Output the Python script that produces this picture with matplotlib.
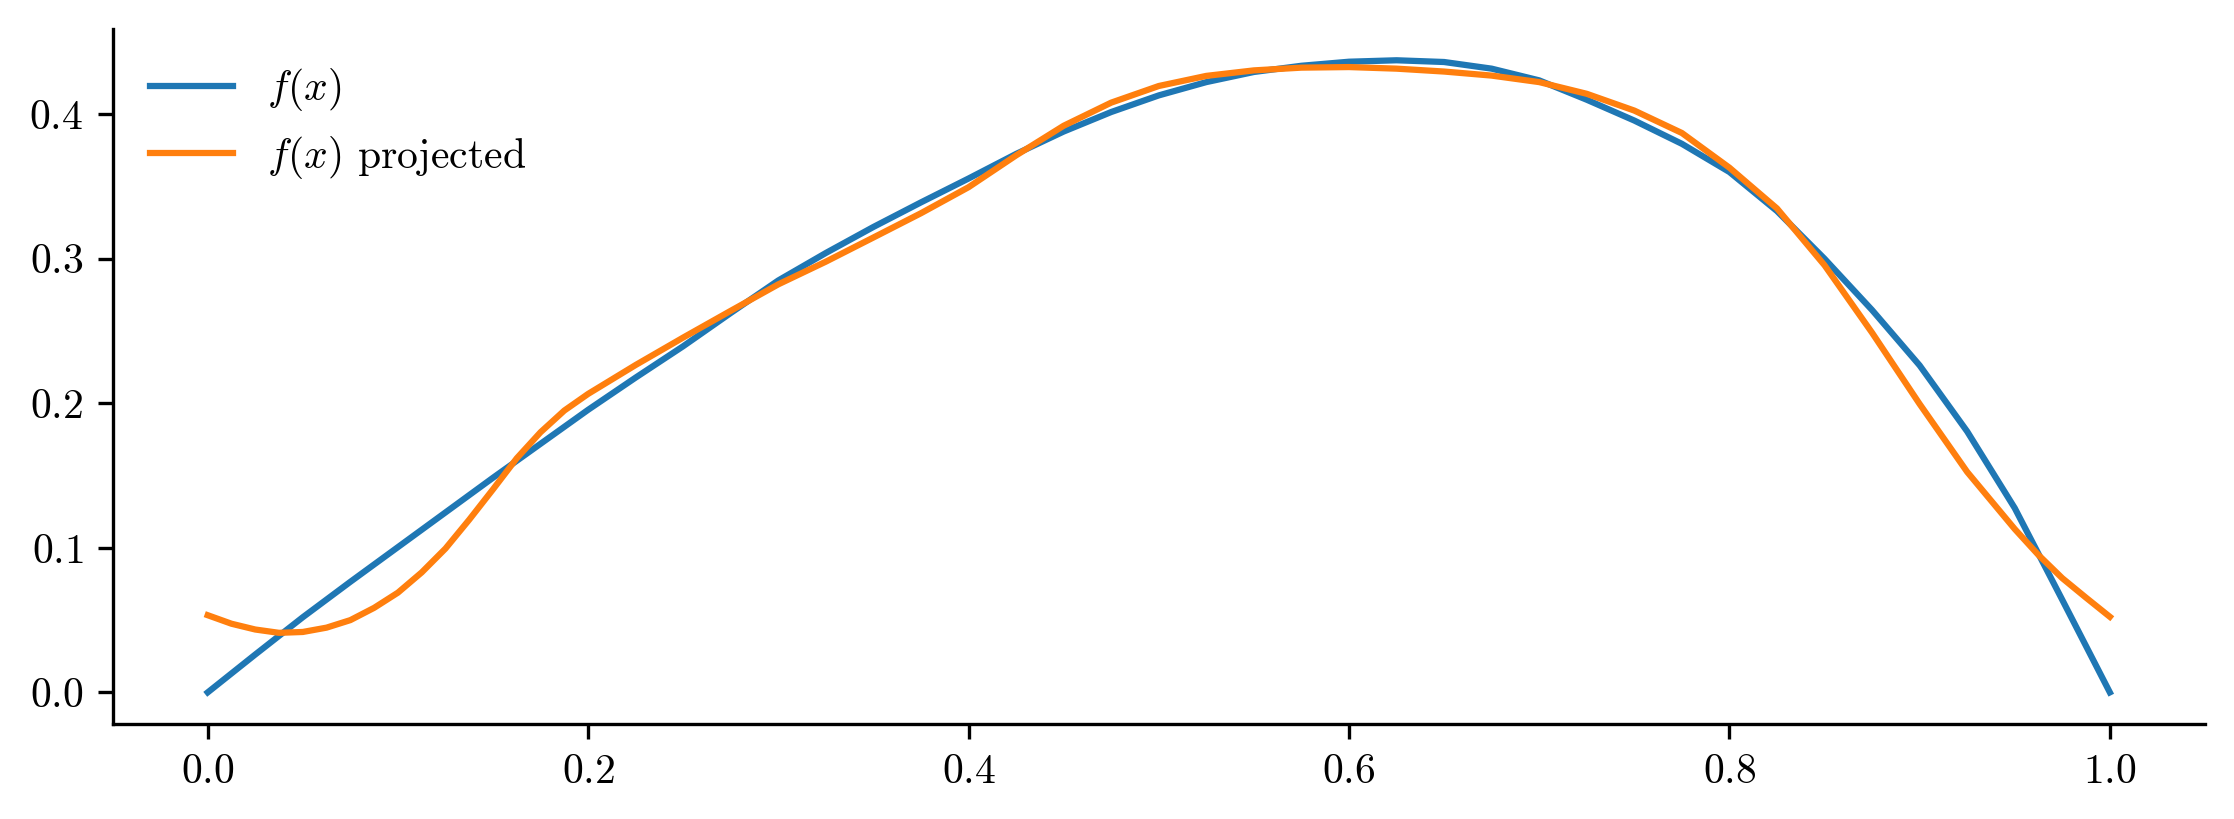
import matplotlib
matplotlib.use("Agg")
import matplotlib.pyplot as plt

plt.rcParams['font.family'] = 'serif'
plt.rcParams['font.serif'] = ['cmr10', 'DejaVu Serif']
plt.rcParams['mathtext.fontset'] = 'cm'
plt.rcParams['axes.formatter.use_mathtext'] = True
plt.rcParams['font.size'] = 10

# f(x)
f_x = [0.000, 0.025, 0.050, 0.075, 0.100, 0.125, 0.150, 0.175, 0.200, 0.225,
       0.250, 0.275, 0.300, 0.325, 0.350, 0.375, 0.400, 0.425, 0.450, 0.475,
       0.500, 0.525, 0.550, 0.575, 0.600, 0.625, 0.650, 0.675, 0.700, 0.725,
       0.750, 0.775, 0.800, 0.825, 0.850, 0.875, 0.900, 0.925, 0.950, 0.975,
       1.000]
f_y = [0.0000, 0.0262, 0.0520, 0.0765, 0.1005, 0.1245, 0.1485, 0.1720, 0.1955, 0.2178,
       0.2395, 0.2625, 0.2850, 0.3040, 0.3220, 0.3390, 0.3555, 0.3725, 0.3880, 0.4015,
       0.4130, 0.4222, 0.4292, 0.4335, 0.4363, 0.4373, 0.4361, 0.4315, 0.4234, 0.4100,
       0.3956, 0.3795, 0.3600, 0.3330, 0.3000, 0.2645, 0.2262, 0.1805, 0.1275, 0.0640,
       0.0000]

# f(x) projected
p_x = [0.000, 0.0125, 0.025, 0.0375, 0.050, 0.0625, 0.075, 0.0875, 0.100, 0.1125,
       0.125, 0.1375, 0.150, 0.1625, 0.175, 0.1875, 0.200, 0.225, 0.250, 0.275,
       0.300, 0.325, 0.350, 0.375, 0.400, 0.425, 0.450, 0.475, 0.500, 0.525,
       0.550, 0.575, 0.600, 0.625, 0.650, 0.675, 0.700, 0.725, 0.750, 0.775,
       0.800, 0.825, 0.850, 0.875, 0.900, 0.925, 0.950, 0.9625, 0.975, 0.9875,
       1.000]
p_y = [0.0534, 0.0475, 0.0435, 0.0412, 0.0418, 0.0448, 0.0500, 0.0585, 0.0690, 0.0830,
       0.0995, 0.1195, 0.1405, 0.1620, 0.1800, 0.1950, 0.2065, 0.2265, 0.2455, 0.2640,
       0.2823, 0.2980, 0.3147, 0.3315, 0.3495, 0.3715, 0.3920, 0.4080, 0.4195, 0.4265,
       0.4303, 0.4322, 0.4326, 0.4315, 0.4295, 0.4267, 0.4222, 0.4141, 0.4025, 0.3870,
       0.3630, 0.3348, 0.2955, 0.2488, 0.1995, 0.1525, 0.1130, 0.0950, 0.0790, 0.0655,
       0.0523]

series_labels = ['$f(x)$', '$f(x)$ projected']
x_ticks = [0.0, 0.2, 0.4, 0.6, 0.8, 1.0]
y_ticks = [0.0, 0.1, 0.2, 0.3, 0.4]

fig = plt.figure(figsize=(2234 / 300, 819 / 300), dpi=300)
ax = fig.add_axes([0.0504, 0.116, 0.9366, 0.849])
ax.plot(f_x, f_y, color='#1f77b4', lw=1.5, label=series_labels[0])
ax.plot(p_x, p_y, color='#ff7f0e', lw=1.5, label=series_labels[1])
ax.spines['top'].set_visible(False)
ax.spines['right'].set_visible(False)
ax.set_xticks(x_ticks)
ax.set_yticks(y_ticks)
ax.legend(loc='upper left', frameon=False)
fig.savefig('out.png', dpi=300)
